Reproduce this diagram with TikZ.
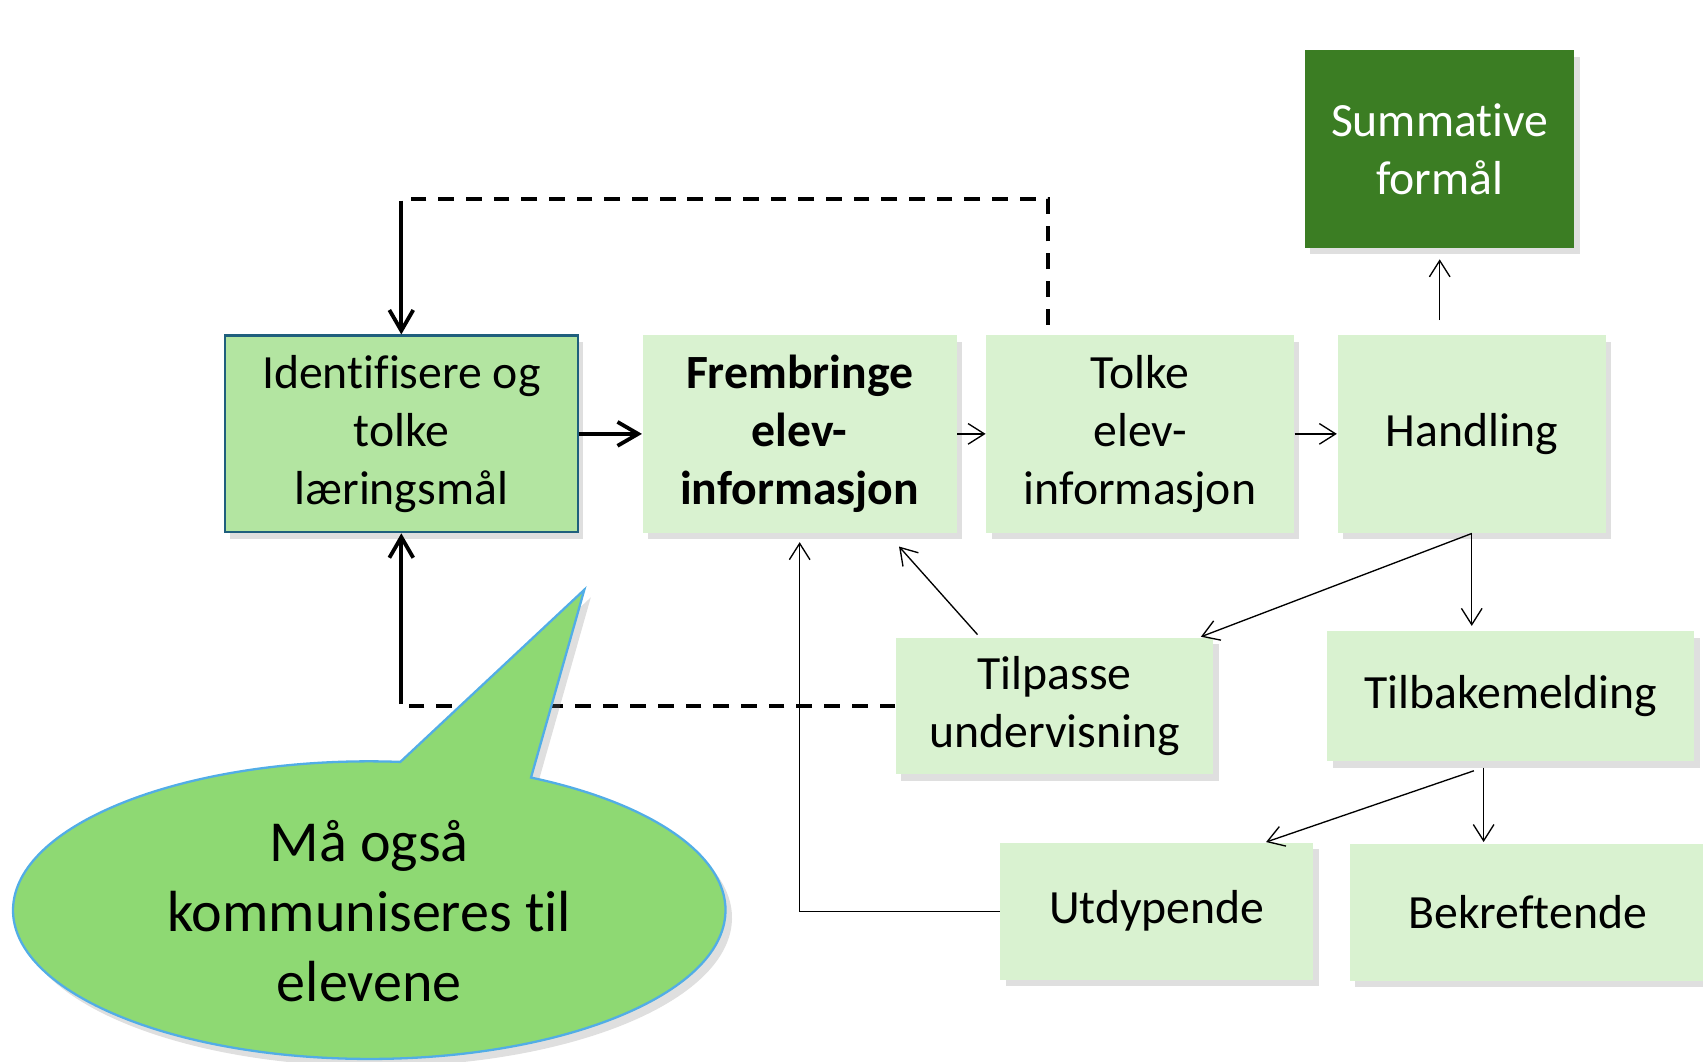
\documentclass[tikz,border=0pt]{standalone}
\usepackage{fontspec}
\setmainfont{Carlito}[Ligatures={NoCommon}]
\usepackage{tikz}
\usetikzlibrary{positioning,arrows.meta,shadows}

\definecolor{lightbox}{HTML}{D9F2D0}
\definecolor{midbox}{HTML}{B3E5A1}
\definecolor{darkbox}{HTML}{3B7D23}
\definecolor{boxedge}{HTML}{1F5F7D}
\definecolor{bubblefill}{HTML}{8ED973}
\definecolor{bubbleedge}{HTML}{52ADE6}

\begin{document}
\begin{tikzpicture}[
        box/.style={
            rectangle, fill=lightbox,
            minimum height=1.82cm,
            inner sep=0pt,
            align=center,
            font=\fontsize{12.5}{15.2}\selectfont,
            drop shadow={shadow xshift=0.5mm, shadow yshift=-0.6mm, opacity=0.25}
        },
        thinarrow/.style={-{Straight Barb[length=1.5mm,width=1.9mm]}, line width=0.35pt},
        thickarrow/.style={-{Straight Barb[length=1.9mm,width=2.2mm]}, line width=1pt},
        dashline/.style={line width=1pt, dash pattern=on 1.45mm off 1.1mm},
        node distance=0.6cm
    ]

    \useasboundingbox (0,0) rectangle (15.68,-9.77);

    % main row
    \node[box, fill=midbox, draw=boxedge, line width=0.6pt,
          minimum width=3.25cm, minimum height=1.81cm] (ident) at (3.695,-3.995)
        {Identifisere og\\tolke\\læringsmål};

    \node[box, right=0.58cm of ident, minimum width=2.89cm,
          font=\fontsize{12.5}{15.2}\selectfont\bfseries] (frembringe)
        {Frembringe\\elev-\\informasjon};

    \node[box, right=0.26cm of frembringe, minimum width=2.83cm] (tolke)
        {Tolke\\elev-\\informasjon};

    \node[box, right=0.39cm of tolke, minimum width=2.47cm] (handling)
        {Handling};

    \node[box, above=0.79cm of handling, xshift=-2.95mm, minimum width=2.48cm,
          fill=darkbox, text=white] (summative)
        {Summative\\formål};

    % lower part
    \node[box, minimum width=2.92cm, minimum height=1.26cm] (tilpasse) at (9.71,-6.50)
        {Tilpasse\\undervisning};

    \node[box, minimum width=3.38cm, minimum height=1.20cm] (tilbake) at (13.91,-6.41)
        {Tilbakemelding};

    \node[box, minimum width=2.88cm, minimum height=1.26cm] (utdypende) at (10.65,-8.39)
        {Utdypende};

    \node[box, minimum width=3.27cm, minimum height=1.26cm] (bekreft) at (14.065,-8.40)
        {Bekreftende};

    % loops back to the goals
    \coordinate (loopnw) at (ident.north |- 0,-1.83);
    \coordinate (loopsw) at (ident.south |- tilpasse.west);

    \draw[dashline] ([xshift=-8.45mm, yshift=0.9mm]tolke.north) |- (loopnw);
    \draw[thickarrow] ([yshift=-0.5pt]loopnw) -- (ident.north);
    \draw[dashline] (tilpasse.west) -- (loopsw);
    \draw[thickarrow] ([yshift=0.5pt]loopsw) -- (ident.south);

    \draw[thickarrow] (ident) -- (frembringe);
    \draw[thinarrow] (frembringe) -- (tolke);
    \draw[thinarrow] (tolke) -- (handling);
    \draw[thinarrow, shorten <=1.3mm, shorten >=1mm] (summative.south |- handling.north) -- (summative.south);

    \draw[thinarrow] (handling.south) -- ([xshift=-1.2mm]tilpasse.north east);
    \draw[thinarrow, shorten >=0.4mm] (handling.south) -- (handling.south |- tilbake.north);
    \draw[thinarrow] ([xshift=-7.1mm, yshift=0.2mm]tilpasse.north) -- ([xshift=9.15mm, yshift=-1.2mm]frembringe.south);
    \draw[thinarrow] (utdypende.west) -| ([yshift=-0.8mm]frembringe.south);

    \draw[thinarrow] ([xshift=-3.4mm, yshift=-0.8mm]tilbake.south) -- ([xshift=-4.4mm]utdypende.north east);
    \draw[thinarrow, shorten >=0.1mm] ([xshift=-2.5mm, yshift=-0.5mm]tilbake.south) -- ([xshift=-2.5mm]tilbake.south |- bekreft.north);

    % speech bubble
    \path[draw=bubbleedge, fill=bubblefill, line width=0.6pt,
          drop shadow={shadow xshift=0.6mm, shadow yshift=-0.7mm, opacity=0.25}]
        (3.40,-8.38) ++(85:3.28cm and 1.37cm)
        arc[start angle=85, end angle=423, x radius=3.28cm, y radius=1.37cm]
        -- (5.38,-5.43) -- cycle;
    \node[align=center, font=\fontsize{15.2}{18.4}\selectfont] (bubbletext) at (3.40,-8.39)
        {Må også\\kommuniseres til\\elevene};

\end{tikzpicture}
\end{document}
